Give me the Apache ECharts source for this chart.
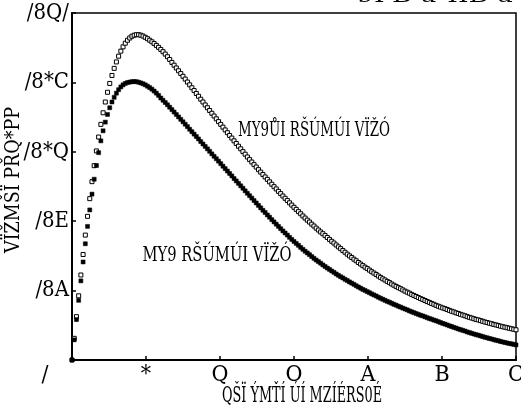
<!DOCTYPE html>
<html>
<head>
<meta charset="utf-8">
<script src="https://cdn.jsdelivr.net/npm/echarts@6/dist/echarts.min.js"></script>
<style>
  html, body { margin: 0; padding: 0; background: #fff; }
  #chart { width: 521px; height: 410px; }
</style>
</head>
<body>
<div id="chart"></div>
<script>
// =============================================================
// 两条曲线的散点图（空心方块 / 实心方块），数值从原图读取。
// =============================================================

const times = [
  0, 0.03, 0.06, 0.09, 0.12, 0.15, 0.18, 0.21, 0.24, 0.27,
  0.30, 0.33, 0.36, 0.39, 0.42, 0.45, 0.48, 0.51, 0.54, 0.57,
  0.60, 0.63, 0.66, 0.69, 0.72, 0.75, 0.78, 0.81, 0.84, 0.87,
  0.90, 0.93, 0.96, 0.99, 1.02, 1.05, 1.08, 1.11, 1.14, 1.17,
  1.20, 1.23, 1.26, 1.29, 1.32, 1.35, 1.38, 1.41, 1.44, 1.47,
  1.50, 1.53, 1.56, 1.59, 1.62, 1.65, 1.68, 1.71, 1.74, 1.77,
  1.80, 1.83, 1.86, 1.89, 1.92, 1.95, 1.98, 2.01, 2.04, 2.07,
  2.10, 2.13, 2.16, 2.19, 2.22, 2.25, 2.28, 2.31, 2.34, 2.37,
  2.40, 2.43, 2.46, 2.49, 2.52, 2.55, 2.58, 2.61, 2.64, 2.67,
  2.70, 2.73, 2.76, 2.79, 2.82, 2.85, 2.88, 2.91, 2.94, 2.97,
  3.00, 3.03, 3.06, 3.09, 3.12, 3.15, 3.18, 3.21, 3.24, 3.27,
  3.30, 3.33, 3.36, 3.39, 3.42, 3.45, 3.48, 3.51, 3.54, 3.57,
  3.60, 3.63, 3.66, 3.69, 3.72, 3.75, 3.78, 3.81, 3.84, 3.87,
  3.90, 3.93, 3.96, 3.99, 4.02, 4.05, 4.08, 4.11, 4.14, 4.17,
  4.20, 4.23, 4.26, 4.29, 4.32, 4.35, 4.38, 4.41, 4.44, 4.47,
  4.50, 4.53, 4.56, 4.59, 4.62, 4.65, 4.68, 4.71, 4.74, 4.77,
  4.80, 4.83, 4.86, 4.89, 4.92, 4.95, 4.98, 5.01, 5.04, 5.07,
  5.10, 5.13, 5.16, 5.19, 5.22, 5.25, 5.28, 5.31, 5.34, 5.37,
  5.40, 5.43, 5.46, 5.49, 5.52, 5.55, 5.58, 5.61, 5.64, 5.67,
  5.70, 5.73, 5.76, 5.79, 5.82, 5.85, 5.88, 5.91, 5.94, 5.97,
  6.00,
];

// 上方曲线（空心方块）
const upperValues = [
  0, 0.0125, 0.0250, 0.0370, 0.0490, 0.0608, 0.0720, 0.0828, 0.0930, 0.1028,
  0.1120, 0.1205, 0.1285, 0.1358, 0.1425, 0.1487, 0.1543, 0.1594, 0.1640, 0.1681,
  0.1718, 0.1751, 0.1780, 0.1805, 0.1826, 0.1843, 0.1856, 0.1866, 0.1872, 0.1875,
  0.1875, 0.1872, 0.1867, 0.1860, 0.1852, 0.1843, 0.1834, 0.1824, 0.1813, 0.1802,
  0.1790, 0.1777, 0.1763, 0.1748, 0.1732, 0.1715, 0.1699, 0.1683, 0.1667, 0.1651,
  0.1635, 0.1619, 0.1602, 0.1586, 0.1569, 0.1553, 0.1536, 0.1520, 0.1503, 0.1487,
  0.1470, 0.1454, 0.1438, 0.1422, 0.1406, 0.1390, 0.1374, 0.1358, 0.1342, 0.1326,
  0.1310, 0.1294, 0.1279, 0.1263, 0.1248, 0.1232, 0.1217, 0.1201, 0.1186, 0.1170,
  0.1155, 0.1141, 0.1126, 0.1112, 0.1097, 0.1083, 0.1069, 0.1055, 0.1041, 0.1027,
  0.1013, 0.0999, 0.0986, 0.0972, 0.0959, 0.0945, 0.0932, 0.0919, 0.0906, 0.0893,
  0.0880, 0.0868, 0.0855, 0.0843, 0.0830, 0.0818, 0.0806, 0.0795, 0.0783, 0.0772,
  0.0760, 0.0749, 0.0738, 0.0728, 0.0717, 0.0706, 0.0695, 0.0684, 0.0674, 0.0663,
  0.0652, 0.0642, 0.0631, 0.0621, 0.0610, 0.0600, 0.0591, 0.0581, 0.0572, 0.0562,
  0.0553, 0.0544, 0.0535, 0.0527, 0.0518, 0.0509, 0.0501, 0.0493, 0.0484, 0.0476,
  0.0468, 0.0461, 0.0453, 0.0446, 0.0438, 0.0431, 0.0424, 0.0417, 0.0411, 0.0404,
  0.0397, 0.0391, 0.0385, 0.0378, 0.0372, 0.0366, 0.0360, 0.0354, 0.0349, 0.0343,
  0.0337, 0.0332, 0.0326, 0.0321, 0.0315, 0.0310, 0.0305, 0.0300, 0.0296, 0.0291,
  0.0286, 0.0281, 0.0277, 0.0272, 0.0268, 0.0263, 0.0259, 0.0255, 0.0250, 0.0246,
  0.0242, 0.0238, 0.0234, 0.0231, 0.0227, 0.0223, 0.0219, 0.0216, 0.0212, 0.0209,
  0.0205, 0.0202, 0.0199, 0.0195, 0.0192, 0.0189, 0.0186, 0.0183, 0.0180, 0.0177,
  0.0174,
];

// 下方曲线（实心方块）
const lowerValues = [
  0, 0.0116, 0.0233, 0.0344, 0.0456, 0.0565, 0.0670, 0.0770, 0.0865, 0.0956,
  0.1042, 0.1121, 0.1195, 0.1263, 0.1321, 0.1371, 0.1415, 0.1454, 0.1487, 0.1514,
  0.1538, 0.1558, 0.1574, 0.1586, 0.1594, 0.1599, 0.1602, 0.1604, 0.1605, 0.1604,
  0.1601, 0.1597, 0.1592, 0.1586, 0.1578, 0.1570, 0.1561, 0.1550, 0.1538, 0.1525,
  0.1510, 0.1497, 0.1484, 0.1471, 0.1457, 0.1443, 0.1429, 0.1415, 0.1401, 0.1387,
  0.1373, 0.1359, 0.1345, 0.1330, 0.1316, 0.1302, 0.1288, 0.1274, 0.1259, 0.1245,
  0.1231, 0.1217, 0.1203, 0.1188, 0.1174, 0.1160, 0.1146, 0.1132, 0.1117, 0.1103,
  0.1089, 0.1075, 0.1061, 0.1046, 0.1032, 0.1018, 0.1004, 0.0990, 0.0975, 0.0961,
  0.0947, 0.0933, 0.0919, 0.0905, 0.0891, 0.0877, 0.0863, 0.0850, 0.0836, 0.0823,
  0.0809, 0.0796, 0.0783, 0.0770, 0.0757, 0.0744, 0.0732, 0.0720, 0.0707, 0.0695,
  0.0683, 0.0672, 0.0661, 0.0649, 0.0638, 0.0627, 0.0617, 0.0607, 0.0596, 0.0586,
  0.0576, 0.0567, 0.0558, 0.0548, 0.0539, 0.0530, 0.0522, 0.0513, 0.0505, 0.0496,
  0.0488, 0.0480, 0.0473, 0.0465, 0.0458, 0.0450, 0.0443, 0.0436, 0.0428, 0.0421,
  0.0414, 0.0407, 0.0401, 0.0394, 0.0388, 0.0381, 0.0375, 0.0369, 0.0362, 0.0356,
  0.0350, 0.0344, 0.0338, 0.0333, 0.0327, 0.0321, 0.0316, 0.0310, 0.0305, 0.0299,
  0.0294, 0.0289, 0.0283, 0.0278, 0.0273, 0.0268, 0.0263, 0.0258, 0.0254, 0.0249,
  0.0244, 0.0239, 0.0235, 0.0230, 0.0226, 0.0221, 0.0216, 0.0211, 0.0207, 0.0202,
  0.0197, 0.0193, 0.0188, 0.0184, 0.0179, 0.0175, 0.0171, 0.0167, 0.0162, 0.0158,
  0.0154, 0.0150, 0.0146, 0.0143, 0.0139, 0.0135, 0.0131, 0.0128, 0.0124, 0.0121,
  0.0117, 0.0114, 0.0111, 0.0107, 0.0104, 0.0101, 0.0098, 0.0095, 0.0093, 0.0090,
  0.0087,
];

// 刻度文字（原图字形原样保留）
const xTickLabels = ["/", "*", "Q", "O", "A", "B", "C"];
const yTickLabels = ["/", "/8A", "/8E", "/8*Q", "/8*C", "/8Q/"];

const xAxisTitle = "QŠÏ ÝMŤÍ ÚÍ MZÍÉRS0É";
const yAxisTitle = "VÏŽMŠÏ PŘQ*PP";
const upperLabel = "MY9ŮI RŠÚMÚI VÏŽÓ";
const lowerLabel = "MY9 RŠÚMÚI VÏŽÓ";
const topText = "9I'B'u²IIB'u";

const FONT = "'DejaVu Serif Condensed', 'Liberation Serif', serif";

const chart = echarts.init(document.getElementById("chart"), null, { renderer: "canvas" });

function pairs(ys) {
  return times.map((t, i) => [t, ys[i]]);
}

// 原图文字很窄：按目标宽度横向压缩
const measureCtx = document.createElement("canvas").getContext("2d");
function squeezed(text, size, cx, cy, width, rotation) {
  const font = size + "px " + FONT;
  measureCtx.font = font;
  const w = measureCtx.measureText(text).width;
  return {
    type: "text",
    x: cx, y: cy,
    rotation: rotation || 0,
    scaleX: width / w,
    silent: true,
    style: { text, font, fill: "#000", align: "center", verticalAlign: "middle" },
  };
}

chart.setOption({
  animation: false,
  backgroundColor: "#fff",
  textStyle: { fontFamily: FONT, color: "#000" },
  grid: {
    left: 72, right: 5, top: 13, bottom: 50,
    containLabel: false,
    outerBoundsMode: "none",
    show: true, borderColor: "#000", borderWidth: 1.5, backgroundColor: "transparent",
  },
  xAxis: {
    type: "value",
    min: 0, max: 6, interval: 1,
    axisLine: { show: true, onZero: false, lineStyle: { color: "#000", width: 2 } },
    axisTick: { show: true, inside: true, length: 4, lineStyle: { color: "#000", width: 1.5 } },
    splitLine: { show: false },
    axisLabel: {
      fontFamily: FONT, fontSize: 23, color: "#000", margin: 4,
      formatter: (v) => (v === 0 ? "{o|" + xTickLabels[0] + "}" : xTickLabels[Math.round(v)]),
      rich: { o: { fontFamily: FONT, fontSize: 23, color: "#000", padding: [0, 54, 0, 0] } },
    },
  },
  yAxis: {
    type: "value",
    min: 0, max: 0.2, interval: 0.04,
    axisLine: { show: true, onZero: false, lineStyle: { color: "#000", width: 2 } },
    axisTick: { show: true, inside: true, length: 4, lineStyle: { color: "#000", width: 1.5 } },
    splitLine: { show: false },
    axisLabel: {
      fontFamily: FONT, fontSize: 22, color: "#000", margin: 3,
      formatter: (v) => {
        const i = Math.round(v / 0.04);
        return i === 0 ? "" : yTickLabels[i];
      },
    },
  },
  graphic: [
    squeezed(xAxisTitle, 23, 302, 396, 160),
    squeezed(yAxisTitle, 20, 14, 180, 146, Math.PI / 2),
    squeezed(upperLabel, 21, 314, 131, 152),
    squeezed(lowerLabel, 21, 217, 256, 149),
    squeezed(topText, 21, 435, -3, 156),
  ],
  series: [
    {
      type: "scatter",
      name: upperLabel,
      data: pairs(upperValues),
      symbol: "rect",
      symbolSize: 4,
      itemStyle: { color: "#fff", borderColor: "#000", borderWidth: 1, opacity: 1 },
      silent: true,
      z: 3,
    },
    {
      type: "scatter",
      name: lowerLabel,
      data: pairs(lowerValues),
      symbol: "rect",
      symbolSize: 4,
      itemStyle: { color: "#000", borderColor: "#000", borderWidth: 0.5, opacity: 1 },
      silent: true,
      z: 4,
    },
  ],
});
</script>
</body>
</html>
